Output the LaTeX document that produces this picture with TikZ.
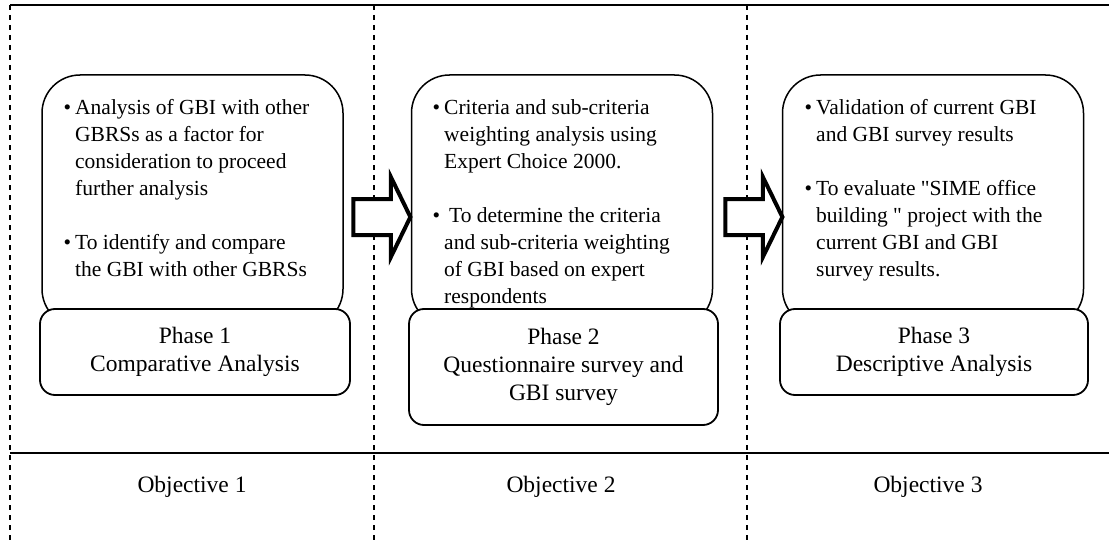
\documentclass[tikz,border=0pt]{standalone}
\usepackage{fontspec}
\setmainfont{Liberation Serif}
\newfontfamily\straightqt{Liberation Serif}
\usetikzlibrary{shapes.arrows}

\tikzset{
  frameline/.style={line width=2pt},
  divider/.style={line width=1.5pt, dash pattern=on 5pt off 5pt},
  taskbox/.style={draw, line width=1.5pt, rounded corners=38pt, minimum width=301pt, minimum height=252pt, inner sep=0pt},
  phasebox/.style={draw, fill=white, line width=1.8pt, rounded corners=15pt, minimum width=309pt, inner sep=0pt,
    align=center, font=\fontsize{23.5}{28}\selectfont},
  tasktext/.style={anchor=north west, inner sep=0pt, align=left, font=\fontsize{21.5}{27}\selectfont},
  objtext/.style={inner sep=0pt, font=\fontsize{23.5}{28}\selectfont},
  blockarrow/.style={single arrow, draw, fill=white, line width=4pt, line join=miter,
    minimum height=57pt, inner xsep=0pt, inner ysep=16pt,
    single arrow head extend=22pt, single arrow tip angle=128}
}
\newcommand{\bul}{\llap{\textbullet\hspace{4pt}}}
\newcommand{\dq}{{\straightqt "}}

\begin{document}
\begin{tikzpicture}[x=1pt, y=-1pt]
\useasboundingbox (0,0) rectangle (1109,543);

% frame: solid rules and dashed column dividers
\draw[frameline] (10,5) -- (1109,5);
\draw[frameline] (10,453) -- (1109,453);
\draw[divider] (10,5) -- (10,543);
\draw[divider] (374,5) -- (374,543);
\draw[divider] (747,5) -- (747,543);

% task boxes
\node[taskbox] (t1) at (192.5,201) {};
\node[taskbox] (t2) at (562,201) {};
\node[taskbox] (t3) at (933,201) {};

\node[tasktext] (x1) at (75,99) {\bul Analysis of GBI with other\\
GBRSs as a factor for\\
consideration to proceed\\
further analysis\\[27pt]
\bul To identify and compare\\
the GBI with other GBRSs};

\node[tasktext] (x2) at (444,99) {\bul Criteria and sub-criteria\\
weighting analysis using\\
Expert Choice 2000.\\[27pt]
\bul\hspace*{5pt}To determine the criteria\\
and sub-criteria weighting\\
of GBI based on expert\\
respondents};

\node[tasktext] (x3) at (816,99) {\bul Validation of current GBI\\
and GBI survey results\\[27pt]
\bul To evaluate \dq SIME office\\
building \dq\ project with the\\
current GBI and GBI\\
survey results.};

% phase boxes
\node[phasebox, minimum width=310pt, minimum height=86pt] (p1) at (195,352) {Phase 1\\ Comparative Analysis};
\node[phasebox, minimum width=309pt, minimum height=116pt] (p2) at (563.5,367) {Phase 2\\Questionnaire survey and\\GBI survey};
\node[phasebox, minimum width=308pt, minimum height=86pt] (p3) at (934,352) {Phase 3\\ Descriptive Analysis};

% block arrows between phases
\node[blockarrow] (a1) at (377.5,217) {};
\node[blockarrow] (a2) at (749.5,217) {};

% objectives
\node[objtext] (o1) at (192,487) {Objective 1};
\node[objtext] (o2) at (561,487) {Objective 2};
\node[objtext] (o3) at (928,487) {Objective 3};
\end{tikzpicture}
\end{document}
